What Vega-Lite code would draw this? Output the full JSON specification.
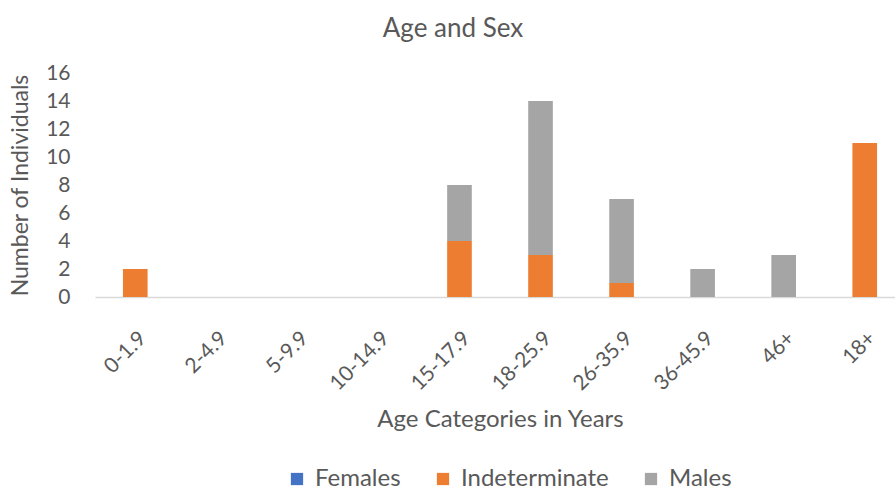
{
  "$schema": "https://vega.github.io/schema/vega-lite/v6.json",
  "autosize": "none",
  "width": 800,
  "height": 224,
  "padding": {"left": 95, "top": 73, "right": 0, "bottom": 195},
  "background": "white",
  "config": {
    "font": "Lato",
    "view": {"stroke": null},
    "axis": {"labelColor": "#595959", "titleColor": "#595959", "labelFont": "Lato", "titleFont": "Lato", "titleFontWeight": "normal"},
    "legend": {"labelColor": "#595959", "labelFont": "Lato"}
  },
  "title": {"text": "Age and Sex", "fontSize": 26, "fontWeight": "normal", "color": "#595959", "font": "Lato", "offset": 20, "dx": -42},
  "data": {
    "values": [
      {"age": "0-1.9", "sex": "Indeterminate", "n": 2},
      {"age": "2-4.9", "sex": "Indeterminate", "n": 0},
      {"age": "5-9.9", "sex": "Indeterminate", "n": 0},
      {"age": "10-14.9", "sex": "Indeterminate", "n": 0},
      {"age": "15-17.9", "sex": "Indeterminate", "n": 4},
      {"age": "15-17.9", "sex": "Males", "n": 4},
      {"age": "18-25.9", "sex": "Indeterminate", "n": 3},
      {"age": "18-25.9", "sex": "Males", "n": 11},
      {"age": "26-35.9", "sex": "Indeterminate", "n": 1},
      {"age": "26-35.9", "sex": "Males", "n": 6},
      {"age": "36-45.9", "sex": "Males", "n": 2},
      {"age": "46+", "sex": "Males", "n": 3},
      {"age": "18+", "sex": "Indeterminate", "n": 11}
    ]
  },
  "mark": {"type": "bar"},
  "encoding": {
    "x": {
      "field": "age", "type": "nominal",
      "sort": ["0-1.9", "2-4.9", "5-9.9", "10-14.9", "15-17.9", "18-25.9", "26-35.9", "36-45.9", "46+", "18+"],
      "scale": {"range": [0, 810], "paddingInner": 0.696, "paddingOuter": 0.345},
      "axis": {"title": "Age Categories in Years", "labelAngle": -45, "labelFontSize": 21, "titleFontSize": 24, "ticks": false, "tickSize": 0, "labelPadding": 30, "domainColor": "#D9D9D9", "domainWidth": 1.5, "titlePadding": 14}
    },
    "y": {
      "field": "n", "type": "quantitative", "aggregate": "sum", "stack": "zero",
      "scale": {"domain": [0, 16]},
      "axis": {"title": "Number of Individuals", "values": [0, 2, 4, 6, 8, 10, 12, 14, 16], "grid": false, "domain": false, "ticks": false, "tickSize": 0, "labelPadding": 25, "labelFontSize": 21, "titleFontSize": 23, "titlePadding": 13}
    },
    "color": {
      "field": "sex", "type": "nominal",
      "scale": {"domain": ["Females", "Indeterminate", "Males"], "range": ["#4472C4", "#ED7D31", "#A5A5A5"]},
      "legend": {"title": null, "orient": "none", "legendX": 190, "legendY": 394, "direction": "horizontal", "symbolType": "square", "symbolSize": 150, "labelFontSize": 24, "labelOffset": 6, "columnPadding": 30, "symbolStrokeWidth": 0}
    },
    "order": {"field": "sex", "sort": "ascending"}
  }
}
